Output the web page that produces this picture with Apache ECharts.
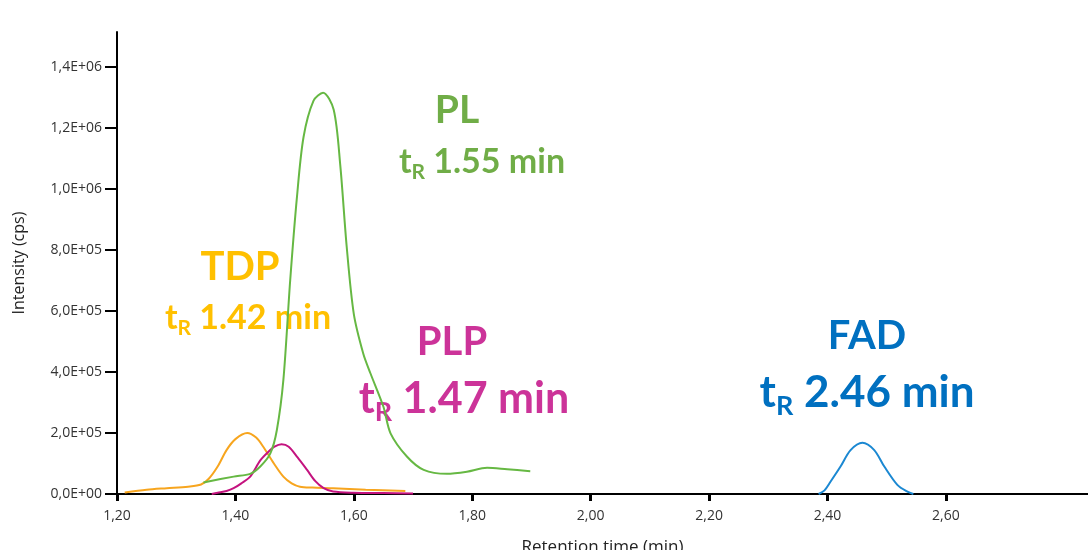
<!DOCTYPE html>
<html>
<head>
<meta charset="utf-8">
<script src="https://cdn.jsdelivr.net/npm/echarts@6/dist/echarts.min.js"></script>
<style>
  html, body { margin: 0; padding: 0; background: #fff; }
  #chart { width: 1088px; height: 550px; }
</style>
</head>
<body>
<div id="chart"></div>
<script>
'use strict';

// retention time (min) and intensity (cps)
const tdpTime = [1.213, 1.25, 1.284, 1.32, 1.342, 1.355, 1.37, 1.385, 1.40, 1.42, 1.435, 1.447, 1.465, 1.481, 1.495, 1.509, 1.53, 1.565, 1.62, 1.687];
const tdpIntensity = [5e3, 1.4e4, 1.9e4, 2.4e4, 3.1e4, 5e4, 9e4, 1.44e5, 1.8e5, 2.0e5, 1.85e5, 1.55e5, 1.0e5, 5.7e4, 3.5e4, 2.4e4, 2.1e4, 1.9e4, 1.4e4, 1.0e4];

const plpTime = [1.36, 1.37, 1.385, 1.397, 1.41, 1.425, 1.442, 1.455, 1.466, 1.478, 1.49, 1.505, 1.521, 1.535, 1.549, 1.565, 1.60, 1.65, 1.70];
const plpIntensity = [0, 4e3, 1e4, 1.9e4, 3.5e4, 5.7e4, 1.1e5, 1.37e5, 1.55e5, 1.63e5, 1.55e5, 1.2e5, 7.9e4, 4.2e4, 1.9e4, 8e3, 4e3, 3e3, 2e3];

const plTime = [1.346, 1.397, 1.425, 1.442, 1.459, 1.47, 1.481, 1.4925, 1.504, 1.515, 1.532, 1.548, 1.566, 1.577, 1.588, 1.60, 1.616, 1.628, 1.65, 1.662, 1.69, 1.718, 1.757, 1.791, 1.825, 1.859, 1.898];
const plIntensity = [3.8e4, 5.7e4, 6.6e4, 9e4, 1.33e5, 2.1e5, 3.74e5, 7.0e5, 9.75e5, 1.17e6, 1.29e6, 1.316e6, 1.26e6, 1.08e6, 8.1e5, 5.9e5, 4.6e5, 3.96e5, 2.86e5, 1.99e5, 1.22e5, 7.9e4, 6.6e4, 7.3e4, 8.6e4, 8.1e4, 7.5e4];

const fadTime = [2.385, 2.395, 2.405, 2.422, 2.439, 2.459, 2.479, 2.496, 2.518, 2.535, 2.545];
const fadIntensity = [0, 1.2e4, 4e4, 9e4, 1.44e5, 1.68e5, 1.44e5, 9e4, 3e4, 7.5e3, 0];

const xTicks = [1.2, 1.4, 1.6, 1.8, 2.0, 2.2, 2.4, 2.6];
const yTicks = [0, 2e5, 4e5, 6e5, 8e5, 1e6, 1.2e6, 1.4e6];

const pair = (xs, ys) => xs.map((x, i) => [x, ys[i]]);

const sciLabel = (v) => {
    if (v === 0) {
        return '0,0E+00';
    }
    const e = Math.floor(Math.log10(v) + 1e-9);
    const m = (v / Math.pow(10, e)).toFixed(1).replace('.', ',');
    return m + 'E+' + String(e).padStart(2, '0');
};

// peak annotation: name on one line, "tR x.xx min" below
const peakLabel = (name, time, color, nameSize, lineSize, x1, y1, x2, y2) => [
    {
        type: 'text', x: x1, y: y1,
        style: {
            text: name, fill: color, align: 'center', verticalAlign: 'middle',
            font: 'bold ' + nameSize + 'px Lato'
        }
    },
    {
        type: 'text', x: x2, y: y2,
        style: {
            text: '{t|t}{s|R}{n| ' + time + ' min}',
            fill: color, align: 'center', verticalAlign: 'middle',
            rich: {
                t: { fontFamily: 'Lato', fontWeight: 'bold', fontSize: lineSize, fill: color },
                s: { fontFamily: 'Lato', fontWeight: 'bold', fontSize: Math.round(lineSize * 0.62), fill: color, padding: [Math.round(lineSize * 0.6), 0, 0, 0] },
                n: { fontFamily: 'Lato', fontWeight: 'bold', fontSize: lineSize, fill: color }
            }
        }
    }
];

const chart = echarts.init(document.getElementById('chart'));

const lineSeries = (name, data, color) => ({
    name: name,
    type: 'line',
    data: data,
    smooth: 0.3,
    showSymbol: false,
    lineStyle: { color: color, width: 2 },
    itemStyle: { color: color }
});

chart.setOption({
    animation: false,
    textStyle: { fontFamily: 'Lato' },
    grid: { left: 117, right: 0, top: 32, bottom: 56, outerBoundsMode: 'none', containLabel: false },
    xAxis: {
        type: 'value',
        min: 1.2,
        max: 2.84,
        interval: 0.2,
        name: 'Retention time (min)',
        nameLocation: 'middle',
        nameGap: 45,
        nameTextStyle: { fontSize: 17, color: '#222', fontFamily: 'Open Sans' },
        axisLine: { lineStyle: { color: '#000', width: 2 } },
        axisTick: { customValues: xTicks, length: 7, lineStyle: { color: '#000', width: 3 } },
        axisLabel: {
            customValues: xTicks,
            margin: 15,
            fontSize: 14,
            color: '#333',
            fontFamily: 'Open Sans',
            formatter: (v) => v.toFixed(2).replace('.', ',')
        },
        splitLine: { show: false }
    },
    yAxis: {
        type: 'value',
        min: 0,
        max: 1.515e6,
        interval: 2e5,
        name: 'Intensity (cps)',
        nameLocation: 'middle',
        nameGap: 90,
        nameTextStyle: { fontSize: 16, color: '#222', fontFamily: 'Open Sans' },
        axisLine: { show: true, lineStyle: { color: '#000', width: 2 } },
        axisTick: { show: true, customValues: yTicks, length: 12, lineStyle: { color: '#000', width: 2 } },
        axisLabel: {
            customValues: yTicks,
            margin: 15,
            fontSize: 14,
            color: '#333',
            fontFamily: 'Open Sans',
            formatter: sciLabel
        },
        splitLine: { show: false }
    },
    series: [
        lineSeries('TDP', pair(tdpTime, tdpIntensity), '#F7A51E'),
        lineSeries('PLP', pair(plpTime, plpIntensity), '#C4137F'),
        lineSeries('PL', pair(plTime, plIntensity), '#66B843'),
        lineSeries('FAD', pair(fadTime, fadIntensity), '#1B88D2')
    ],
    graphic: [
        ...peakLabel('PL', '1.55', '#70AD47', 39, 34, 457, 110, 482, 162),
        ...peakLabel('TDP', '1.42', '#FFC000', 40, 34, 240, 267, 248, 318),
        ...peakLabel('PLP', '1.47', '#CC3399', 40, 43, 452, 342, 464, 399),
        ...peakLabel('FAD', '2.46', '#0070C0', 40, 44, 867, 336, 867, 393)
    ]
});
</script>
</body>
</html>
